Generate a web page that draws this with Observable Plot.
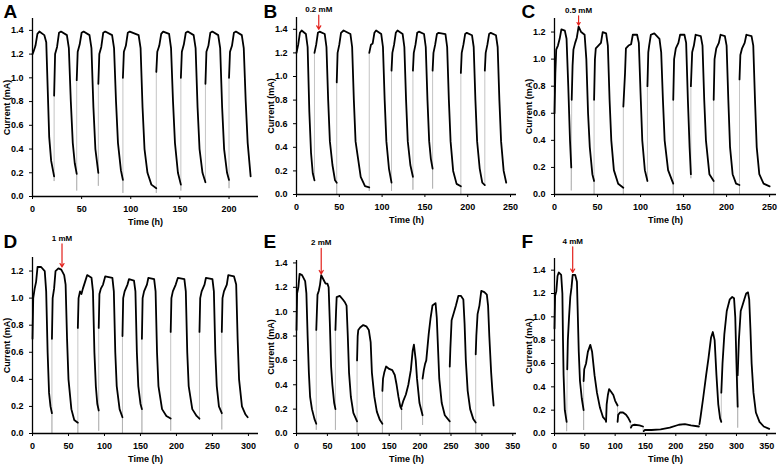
<!DOCTYPE html>
<div id="grid"></div>
<script src="https://cdn.jsdelivr.net/npm/d3@7"></script>
<script src="https://cdn.jsdelivr.net/npm/@observablehq/plot@0.6"></script>
<script>

// each cycle is a list of [time (h), current (mA)]
const cyclesA = [
	[[0,1.2],[1,1.22],[3,1.27],[5,1.37],[7,1.39],[12,1.36],[14,1.3],[15.5,0.9],[17,0.5],[19,0.3],[22,0.17]],
	[[22,0.85],[23,1.2],[25,1.26],[27,1.38],[29,1.39],[35,1.36],[37,1.25],[39,0.8],[41,0.45],[43,0.28],[45,0.19]],
	[[45,0.98],[46,1.22],[48,1.28],[50,1.38],[52,1.39],[58,1.36],[60,1.25],[62,0.75],[64,0.4],[67,0.2]],
	[[67,0.95],[68,1.2],[70,1.26],[72,1.38],[74,1.39],[81,1.36],[83,1.25],[85,0.8],[87,0.45],[90,0.22],[92,0.14]],
	[[92,1.0],[93,1.22],[95,1.27],[97,1.38],[99,1.39],[108,1.36],[110,1.25],[112,0.75],[114,0.4],[117,0.2],[121,0.1],[126,0.07]],
	[[126,1.05],[127,1.22],[129,1.27],[131,1.37],[133,1.39],[139,1.37],[141,1.25],[143,0.8],[145,0.45],[148,0.2],[151,0.1]],
	[[151,1.0],[152,1.22],[154,1.28],[156,1.38],[158,1.39],[164,1.36],[166,1.25],[168,0.75],[170,0.4],[173,0.2],[176,0.12]],
	[[176,0.95],[177,1.22],[179,1.27],[181,1.38],[183,1.39],[189,1.36],[191,1.25],[193,0.75],[195,0.4],[198,0.2],[200,0.14]],
	[[200,1.0],[201,1.22],[203,1.27],[205,1.38],[207,1.39],[213,1.36],[215,1.25],[217,0.8],[219,0.45],[222,0.17]]
];
const floorsA = [0.13, 0.05, 0.09, 0.03, 0.03, 0.05, 0.12, 0.07];

const cyclesB = [
	[[0,1.2],[2,1.27],[4,1.37],[6,1.39],[11,1.36],[13,1.25],[15,0.7],[17,0.35],[19,0.18],[21,0.12]],
	[[21,1.2],[23,1.27],[25,1.37],[27,1.38],[33,1.36],[35,1.25],[37,0.8],[39,0.45],[42,0.25],[45,0.12],[47,0.1]],
	[[47,0.95],[48,1.2],[50,1.27],[52,1.37],[55,1.39],[63,1.36],[65,1.25],[67,0.8],[69,0.45],[72,0.3],[75,0.15],[80,0.07],[85,0.06]],
	[[85,1.2],[87,1.27],[89,1.28],[91,1.37],[93,1.39],[99,1.36],[101,1.25],[103,0.8],[105,0.45],[108,0.22],[111,0.1]],
	[[111,1.05],[112,1.2],[114,1.27],[116,1.37],[118,1.39],[124,1.36],[126,1.25],[128,0.8],[130,0.45],[133,0.25],[136,0.15]],
	[[136,1.05],[137,1.2],[139,1.27],[141,1.37],[143,1.38],[149,1.36],[151,1.25],[153,0.8],[155,0.45],[157,0.3],[159,0.22]],
	[[159,1.05],[160,1.2],[162,1.27],[164,1.36],[166,1.37],[174,1.36],[176,1.25],[178,0.8],[180,0.45],[183,0.2],[187,0.09],[192,0.07]],
	[[192,1.03],[193,1.2],[195,1.27],[197,1.36],[199,1.37],[205,1.35],[207,1.25],[209,0.8],[211,0.45],[214,0.22],[217,0.1],[220,0.08]],
	[[220,1.05],[221,1.2],[223,1.27],[225,1.36],[227,1.37],[233,1.35],[235,1.25],[237,0.8],[239,0.45],[242,0.2],[245,0.1]]
];
const floorsB = [0.12, 0.0, 0.03, 0.03, 0.04, 0.05, 0.0, 0.2];

const cyclesC = [
	[[0,0.6],[1,0.9],[2,1.07],[4,1.1],[6,1.15],[8,1.22],[12,1.21],[14,1.15],[16,0.8],[18,0.4],[19.5,0.2]],
	[[20,0.7],[21,0.95],[22,1.07],[24,1.12],[26,1.16],[28,1.24],[31,1.2],[35,1.18],[37,1.0],[39,0.6],[41,0.35],[44,0.15],[46,0.1]],
	[[46,0.7],[47,1.0],[48,1.08],[51,1.1],[54,1.12],[56,1.2],[60,1.19],[62,1.1],[64,0.7],[66,0.4],[69,0.18],[74,0.08],[80,0.05]],
	[[80,0.65],[82,0.9],[83,1.08],[86,1.1],[89,1.11],[91,1.18],[96,1.18],[98,1.12],[100,0.75],[102,0.4],[105,0.18],[108,0.1]],
	[[108,0.8],[109,1.05],[110,1.1],[112,1.18],[116,1.19],[122,1.15],[124,1.05],[126,0.7],[128,0.4],[132,0.18],[138,0.08]],
	[[138,0.7],[139,1.0],[141,1.08],[144,1.12],[146,1.18],[151,1.18],[153,1.12],[155,0.7],[157,0.35],[158.5,0.15]],
	[[158.5,0.8],[160,1.05],[162,1.1],[164,1.18],[170,1.17],[172,1.1],[174,0.7],[176,0.4],[180,0.15],[185,0.1]],
	[[185,0.7],[186,1.0],[188,1.08],[191,1.12],[193,1.18],[198,1.17],[200,1.1],[202,0.7],[204,0.35],[207,0.15],[211,0.08],[215,0.07]],
	[[215,0.85],[216,1.03],[218,1.08],[221,1.12],[223,1.18],[229,1.17],[231,1.1],[233,0.7],[235,0.35],[238,0.15],[243,0.08],[250,0.06]]
];
const floorsC = [0.03, 0.0, 0.0, 0.1, 0.0, 0.12, 0.0, 0.0];

const cyclesD = [
	[[0,0.7],[1,1.0],[3,1.07],[5,1.12],[7,1.23],[12,1.23],[17,1.2],[19,1.05],[21,0.6],[23,0.3],[25,0.2],[27,0.15]],
	[[27,0.7],[28,1.0],[30,1.07],[32,1.2],[36,1.22],[40,1.21],[44,1.17],[46,1.1],[48,0.7],[50,0.4],[54,0.18],[58,0.1],[63,0.08]],
	[[63,0.78],[64,1.0],[66,1.05],[68,1.03],[70,1.07],[73,1.12],[76,1.17],[82,1.15],[84,1.05],[86,0.6],[88,0.35],[90,0.22],[92,0.17]],
	[[92,0.78],[93,1.03],[95,1.07],[98,1.1],[101,1.16],[111,1.15],[113,1.05],[115,0.6],[117,0.35],[121,0.18],[125,0.12]],
	[[125,0.72],[126,1.0],[128,1.05],[132,1.1],[134,1.14],[141,1.13],[143,1.05],[145,0.6],[147,0.35],[150,0.22],[152,0.18]],
	[[152,0.7],[153,1.0],[155,1.05],[159,1.1],[161,1.15],[169,1.14],[171,1.05],[173,0.6],[175,0.35],[180,0.18],[186,0.13],[192,0.11]],
	[[192,0.75],[193,1.0],[195,1.05],[199,1.1],[202,1.15],[211,1.14],[213,1.05],[215,0.6],[217,0.35],[222,0.18],[228,0.13],[232,0.11]],
	[[232,0.75],[233,1.0],[235,1.05],[239,1.1],[241,1.15],[250,1.14],[252,1.05],[254,0.6],[256,0.35],[259,0.2],[263,0.15]],
	[[263,0.75],[264,1.0],[266,1.05],[270,1.1],[272,1.17],[280,1.16],[283,1.1],[285,0.7],[287,0.4],[291,0.2],[296,0.14],[299,0.12]]
];
const floorsD = [0.0, 0.0, 0.02, 0.0, 0.0, 0.02, 0.1, 0.03];

const cyclesE = [
	[[0,0.85],[1,1.15],[3,1.2],[5,1.31],[9,1.3],[14,1.25],[16,1.15],[18,0.8],[20,0.5],[22,0.3],[25,0.2],[29,0.12],[32,0.08]],
	[[32,0.85],[33,1.0],[34,1.14],[36,1.17],[38,1.22],[40,1.3],[44,1.26],[47,1.23],[50,1.23],[52,1.2],[54,0.9],[56,0.55],[58,0.4],[61,0.25],[63,0.2]],
	[[63,0.85],[64,1.0],[65,1.12],[70,1.13],[75,1.1],[78,1.08],[81,1.05],[83,0.8],[85,0.5],[88,0.3],[92,0.17],[98,0.1]],
	[[98,0.6],[99,0.8],[100,0.85],[103,0.87],[108,0.89],[113,0.88],[117,0.85],[120,0.75],[122,0.5],[126,0.3],[130,0.18],[135,0.11],[139,0.08]],
	[[139,0.35],[140,0.45],[142,0.5],[145,0.55],[150,0.53],[155,0.52],[159,0.48],[162,0.4],[165,0.3],[168,0.22],[170,0.2]],
	[[170,0.22],[173,0.27],[177,0.32],[181,0.4],[185,0.52],[188,0.68],[190,0.73],[193,0.6],[195,0.45],[199,0.25],[204,0.15]],
	[[204,0.45],[206,0.52],[208,0.57],[210,0.6],[214,0.82],[217,0.95],[220,1.05],[225,1.07],[227,0.95],[229,0.7],[231,0.45],[235,0.25],[240,0.15],[248,0.1]],
	[[248,0.55],[249,0.7],[251,0.93],[254,0.98],[258,1.05],[262,1.13],[266,1.13],[270,1.1],[272,0.9],[274,0.6],[277,0.35],[281,0.2],[286,0.12],[290,0.09]],
	[[290,0.65],[291,0.8],[293,0.98],[296,1.05],[299,1.17],[304,1.16],[308,1.14],[310,1.05],[312,0.8],[315,0.5],[317,0.35],[319,0.23]]
];
const floorsE = [0.03, 0.03, 0.0, 0.0, 0.03, 0.07, 0.0, 0.0];

const cyclesF = [
	[[0,0.9],[1,1.18],[3,1.22],[5,1.35],[7,1.38],[11,1.36],[13,1.2],[14,0.8],[15,0.5],[17,0.2],[20,0.1]],
	[[21,0.55],[22,0.8],[24,1.0],[26,1.17],[28,1.25],[30,1.36],[34,1.36],[37,1.3],[38,1.1],[40,0.7],[42,0.45],[45,0.3],[48,0.2]],
	[[48,0.45],[49,0.55],[52,0.6],[55,0.7],[59,0.76],[62,0.7],[66,0.5],[70,0.35],[75,0.22],[80,0.14],[85,0.11]],
	[[85,0.1],[86,0.25],[88,0.33],[90,0.38],[93,0.36],[97,0.33],[100,0.28],[104,0.24]],
	[[104,0.1],[105,0.16],[108,0.18],[113,0.18],[118,0.16],[122,0.13],[125,0.1]],
	[[126,0.05],[128,0.07],[132,0.075],[140,0.07],[146,0.06]],
	[[147,0.02],[149,0.03],[160,0.03],[175,0.035],[190,0.05],[205,0.075],[215,0.08],[225,0.07],[238,0.06]],
	[[239,0.08],[241,0.15],[245,0.3],[250,0.5],[254,0.65],[258,0.82],[261,0.87],[264,0.8],[267,0.5],[270,0.25],[273,0.13],[275,0.1]],
	[[275,0.35],[277,0.6],[280,0.85],[284,1.05],[289,1.15],[293,1.17],[296,1.16],[298,1.0],[300,0.6],[302,0.23]],
	[[302,0.5],[304,0.8],[307,1.05],[310,1.1],[313,1.15],[316,1.2],[319,1.21],[321,1.15],[323,0.9],[325,0.6],[328,0.35],[332,0.18],[338,0.1],[345,0.06],[354,0.04]]
];
const floorsF = [0.02, 0.03, 0.1, 0.1, 0.05, 0.02, 0.06, 0.1, 0.05];

const arrows = {B: [26, '0.2 mM'], C: [28, '0.5 mM'], D: [41, '1 mM'], E: [40, '2 mM'], F: [30, '4 mM']};

const panels = [
	{id: 'A', cycles: cyclesA, floors: floorsA, x: [0, 230], y: [0, 1.5], xt: [0, 50, 100, 150, 200], yt: d3.range(0, 1.41, 0.2), ml: 32, w: 260, h: 230, mt: 18, mb: 34, peak: 1.39},
	{id: 'B', cycles: cyclesB, floors: floorsB, x: [0, 257], y: [0, 1.5], xt: [0, 50, 100, 150, 200, 250], yt: d3.range(0, 1.41, 0.2), ml: 36, w: 258, h: 230, mt: 17, mb: 36, peak: 1.39},
	{id: 'C', cycles: cyclesC, floors: floorsC, x: [0, 258], y: [0, 1.3], xt: [0, 50, 100, 150, 200, 250], yt: d3.range(0, 1.21, 0.2), ml: 36, w: 260, h: 230, mt: 18, mb: 36, peak: 1.24},
	{id: 'D', cycles: cyclesD, floors: floorsD, x: [0, 314], y: [0, 1.3], xt: [0, 50, 100, 150, 200, 250, 300], yt: d3.range(0, 1.21, 0.2), ml: 32, w: 260, h: 235, mt: 27, mb: 32, peak: 1.22},
	{id: 'E', cycles: cyclesE, floors: floorsE, x: [0, 356], y: [0, 1.42], xt: [0, 50, 100, 150, 200, 250, 300, 350], yt: d3.range(0, 1.41, 0.2), ml: 36, w: 258, h: 235, mt: 30, mb: 32, peak: 1.3},
	{id: 'F', cycles: cyclesF, floors: floorsF, x: [0, 366], y: [0, 1.5], xt: [0, 50, 100, 150, 200, 250, 300, 350], yt: d3.range(0, 1.41, 0.2), ml: 36, w: 260, h: 235, mt: 28, mb: 32, peak: 1.37},
];

const grid = document.querySelector('#grid');
for (let p of panels) {
	let trace = [];
	p.cycles.forEach((c, i) => c.forEach(([t, v]) => trace.push({t, v, c: i})));
	let drops = [];
	for (let i = 0; i < p.cycles.length - 1; i++) {
		let last = p.cycles[i][p.cycles[i].length - 1];
		let next = p.cycles[i + 1][0];
		drops.push({t: last[0], v: last[1], g: i}, {t: last[0], v: p.floors[i], g: i}, {t: next[0], v: next[1], g: i});
	}
	let marks = [
		Plot.line(drops, {x: 't', y: 'v', z: 'g', stroke: '#aaa', strokeWidth: 0.7}),
		Plot.line(trace, {x: 't', y: 'v', z: 'c', stroke: 'black', strokeWidth: 1.8}),
		Plot.ruleY([0], {stroke: 'black', strokeWidth: 1.3}),
		Plot.ruleX([0], {stroke: 'black', strokeWidth: 1.3}),
		Plot.text([p.id], {frameAnchor: 'top-left', dx: -p.ml + 3, dy: -p.mt + 4, lineAnchor: 'top', fontSize: 19, fontWeight: 'bold', textAnchor: 'start'}),
	];
	if (arrows[p.id]) {
		let [t, label] = arrows[p.id];
		let top = p.y[1] + (p.id == 'B' || p.id == 'C' ? 0.02 : 0.1);
		marks.push(
			Plot.arrow([0], {x1: t, x2: t, y1: top, y2: p.peak + 0.01, stroke: '#e3211c', strokeWidth: 1.2, headLength: 5}),
			Plot.text([label], {x: t, y: top, dy: -3, lineAnchor: 'bottom', fontSize: 8, fontWeight: 'bold'})
		);
	}
	let plot = Plot.plot({
		width: p.w, height: p.h,
		marginLeft: p.ml, marginTop: p.mt, marginBottom: p.mb, marginRight: 2,
		style: {fontFamily: 'Liberation Sans, Arial, sans-serif', fontSize: '9px', fontWeight: 'bold', overflow: 'visible'},
		x: {domain: p.x, ticks: p.xt, tickSize: 3, label: 'Time (h)', labelAnchor: 'center', labelArrow: 'none', labelOffset: 28},
		y: {domain: p.y, ticks: p.yt, tickSize: 3, tickFormat: d3.format('.1f'), label: 'Current (mA)', labelAnchor: 'center', labelArrow: 'none', labelOffset: 29},
		marks
	});
	grid.append(plot);
}
</script>
<style>
html, body { margin: 0; background: white; }
#grid { display: flex; flex-wrap: wrap; width: 778px; }
#grid svg { display: block; }
</style>
